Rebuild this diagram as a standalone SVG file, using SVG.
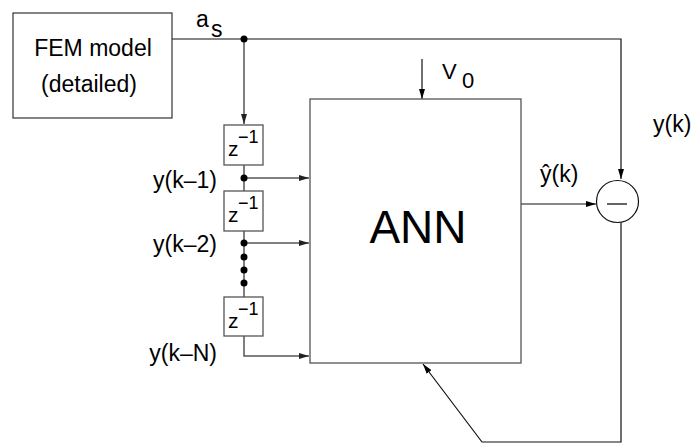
<svg xmlns="http://www.w3.org/2000/svg" width="693" height="445" viewBox="0 0 693 445">
<defs>
<marker id="ab" viewBox="0 0 10 6" refX="10" refY="3" markerWidth="10" markerHeight="6" markerUnits="userSpaceOnUse" orient="auto"><path d="M0,0 L10,3 L0,6 Z" fill="#000"/></marker>
<marker id="ag" viewBox="0 0 10 6" refX="10" refY="3" markerWidth="10" markerHeight="6" markerUnits="userSpaceOnUse" orient="auto"><path d="M0,0 L10,3 L0,6 Z" fill="#222"/></marker>
</defs>
<style>
text{font-family:"Liberation Sans",Arial,sans-serif;fill:#000}
.box{fill:#fff;stroke:#333;stroke-width:1.2}
.gbox{fill:#fff;stroke:#555;stroke-width:1.3}
.ln{fill:none;stroke:#111;stroke-width:1.2}
.gl{fill:none;stroke:#555;stroke-width:1.5}
.lbl{font-size:23px}
.z{font-size:21px}
.sup{font-size:18px}
</style>
<g id="connectors">
<path class="ln" d="M172,39 H621 V179" marker-end="url(#ab)"/>
<path class="gl" d="M244,39 V124" marker-end="url(#ag)"/>
<path class="gl" d="M244,165 V191"/>
<path class="gl" d="M244,178 H309" marker-end="url(#ag)"/>
<path class="gl" d="M244,231 V297"/>
<path class="gl" d="M244,243 H309" marker-end="url(#ag)"/>
<path class="gl" d="M244,336 V356 H309" marker-end="url(#ag)"/>
<path class="ln" d="M422,59 V99" marker-end="url(#ab)"/>
<path class="ln" d="M521,204 H596" marker-end="url(#ab)"/>
<path class="ln" d="M621,223 V442 H482 L423,364" marker-end="url(#ab)"/>
<circle cx="244" cy="39" r="3.5" fill="#000"/>
<circle cx="244" cy="178" r="3.5" fill="#000"/>
<circle cx="244" cy="243" r="3.5" fill="#000"/>
<circle cx="244" cy="257" r="3.5" fill="#000"/>
<circle cx="244" cy="270" r="3.5" fill="#000"/>
<circle cx="244" cy="283" r="3.5" fill="#000"/>
</g>
<g id="fem">
<rect class="box" x="13" y="13" width="159" height="105"/>
<text class="lbl" x="93" y="56" text-anchor="middle">FEM model</text>
<text class="lbl" x="89" y="92" text-anchor="middle">(detailed)</text>
</g>
<g id="as-label">
<text class="lbl" x="196" y="27">a</text>
<text class="lbl" x="211" y="37">s</text>
</g>
<g id="delay1">
<rect class="gbox" x="224" y="125" width="39" height="40"/>
<text class="z" x="228" y="156">z</text>
<text class="sup" x="238" y="143">−1</text>
</g>
<g id="delay2">
<rect class="gbox" x="224" y="191" width="39" height="40"/>
<text class="z" x="228" y="222">z</text>
<text class="sup" x="238" y="209">−1</text>
</g>
<g id="delay3">
<rect class="gbox" x="224" y="297" width="39" height="39"/>
<text class="z" x="228" y="328">z</text>
<text class="sup" x="238" y="315">−1</text>
</g>
<g id="tap-labels">
<text class="lbl" x="217" y="188" text-anchor="end">y(k–1)</text>
<text class="lbl" x="217" y="252" text-anchor="end">y(k–2)</text>
<text class="lbl" x="217" y="361" text-anchor="end">y(k–N)</text>
</g>
<g id="ann">
<rect class="gbox" x="310" y="99" width="211" height="264"/>
<text x="418" y="243" font-size="46" text-anchor="middle">ANN</text>
</g>
<g id="v0">
<text x="442" y="79" font-size="22">V</text>
<text x="462" y="88" font-size="22">0</text>
</g>
<g id="yhat-label">
<text class="lbl" x="540" y="182">ŷ(k)</text>
</g>
<g id="yk-label">
<text class="lbl" x="653" y="132">y(k)</text>
</g>
<g id="sum">
<circle cx="617.5" cy="201.5" r="21" fill="#fff" stroke="#111" stroke-width="1.2"/>
<line x1="607" y1="204" x2="627" y2="204" stroke="#111" stroke-width="1.3"/>
</g>
</svg>
